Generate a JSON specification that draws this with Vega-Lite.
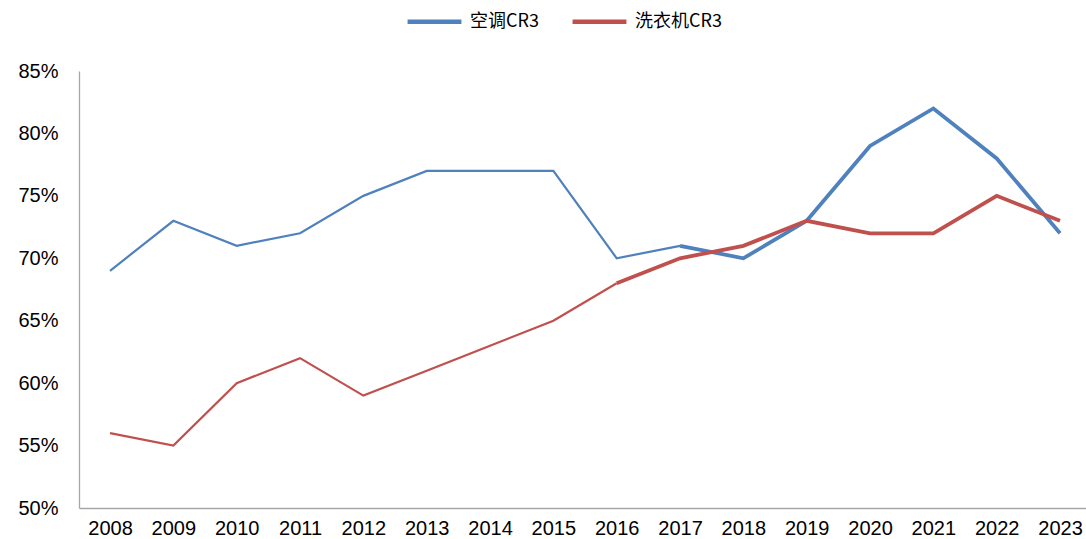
{
  "$schema": "https://vega.github.io/schema/vega-lite/v6.json",
  "width": 1007,
  "height": 437,
  "autosize": {"type": "none"},
  "padding": {"left": 79, "top": 71, "right": 0, "bottom": 31},
  "background": "white",
  "config": {
    "view": {"stroke": null},
    "axis": {"labelFont": "Liberation Sans", "labelFontSize": 20, "labelColor": "#000", "domainColor": "#a6a6a6", "domainWidth": 1.3, "grid": false, "ticks": false, "title": null}
  },
  "data": {
    "values": [
      {"year": 2008, "series": "空调CR3", "value": 0.69},
      {"year": 2009, "series": "空调CR3", "value": 0.73},
      {"year": 2010, "series": "空调CR3", "value": 0.71},
      {"year": 2011, "series": "空调CR3", "value": 0.72},
      {"year": 2012, "series": "空调CR3", "value": 0.75},
      {"year": 2013, "series": "空调CR3", "value": 0.77},
      {"year": 2014, "series": "空调CR3", "value": 0.77},
      {"year": 2015, "series": "空调CR3", "value": 0.77},
      {"year": 2016, "series": "空调CR3", "value": 0.70},
      {"year": 2017, "series": "空调CR3", "value": 0.71},
      {"year": 2018, "series": "空调CR3", "value": 0.70},
      {"year": 2019, "series": "空调CR3", "value": 0.73},
      {"year": 2020, "series": "空调CR3", "value": 0.79},
      {"year": 2021, "series": "空调CR3", "value": 0.82},
      {"year": 2022, "series": "空调CR3", "value": 0.78},
      {"year": 2023, "series": "空调CR3", "value": 0.72},
      {"year": 2008, "series": "洗衣机CR3", "value": 0.56},
      {"year": 2009, "series": "洗衣机CR3", "value": 0.55},
      {"year": 2010, "series": "洗衣机CR3", "value": 0.60},
      {"year": 2011, "series": "洗衣机CR3", "value": 0.62},
      {"year": 2012, "series": "洗衣机CR3", "value": 0.59},
      {"year": 2013, "series": "洗衣机CR3", "value": 0.61},
      {"year": 2014, "series": "洗衣机CR3", "value": 0.63},
      {"year": 2015, "series": "洗衣机CR3", "value": 0.65},
      {"year": 2016, "series": "洗衣机CR3", "value": 0.68},
      {"year": 2017, "series": "洗衣机CR3", "value": 0.70},
      {"year": 2018, "series": "洗衣机CR3", "value": 0.71},
      {"year": 2019, "series": "洗衣机CR3", "value": 0.73},
      {"year": 2020, "series": "洗衣机CR3", "value": 0.72},
      {"year": 2021, "series": "洗衣机CR3", "value": 0.72},
      {"year": 2022, "series": "洗衣机CR3", "value": 0.75},
      {"year": 2023, "series": "洗衣机CR3", "value": 0.73}
    ]
  },
  "encoding": {
    "x": {
      "field": "year", "type": "quantitative",
      "scale": {"domain": [2007.51, 2023.41], "nice": false, "zero": false},
      "axis": {"values": [2008, 2009, 2010, 2011, 2012, 2013, 2014, 2015, 2016, 2017, 2018, 2019, 2020, 2021, 2022, 2023], "format": "d", "labelPadding": 10, "labelFlush": false, "labelOverlap": false}
    },
    "y": {
      "field": "value", "type": "quantitative",
      "scale": {"domain": [0.5, 0.85], "nice": false, "zero": false},
      "axis": {"values": [0.5, 0.55, 0.6, 0.65, 0.7, 0.75, 0.8, 0.85], "format": ".0%", "labelPadding": 21}
    },
    "color": {
      "field": "series", "type": "nominal",
      "scale": {"domain": ["空调CR3", "洗衣机CR3"], "range": ["#4f81bd", "#c0504d"]},
      "legend": {
        "title": null, "orient": "none", "direction": "horizontal", "legendX": 326, "legendY": -79,
        "symbolType": "stroke", "symbolSize": 2900, "symbolStrokeWidth": 4.5,
        "labelFont": "Noto Sans CJK SC", "labelFontSize": 18, "labelColor": "#000", "labelOffset": 6,
        "columnPadding": 24
      }
    },
    "detail": {"field": "series"}
  },
  "layer": [
    {
      "transform": [{"filter": "(datum.series == '空调CR3' && datum.year <= 2017) || (datum.series == '洗衣机CR3' && datum.year <= 2016)"}],
      "mark": {"type": "line", "strokeWidth": 2.2, "strokeJoin": "miter"}
    },
    {
      "transform": [{"filter": "(datum.series == '空调CR3' && datum.year >= 2017) || (datum.series == '洗衣机CR3' && datum.year >= 2016)"}],
      "mark": {"type": "line", "strokeWidth": 3.8, "strokeJoin": "miter"}
    }
  ]
}
